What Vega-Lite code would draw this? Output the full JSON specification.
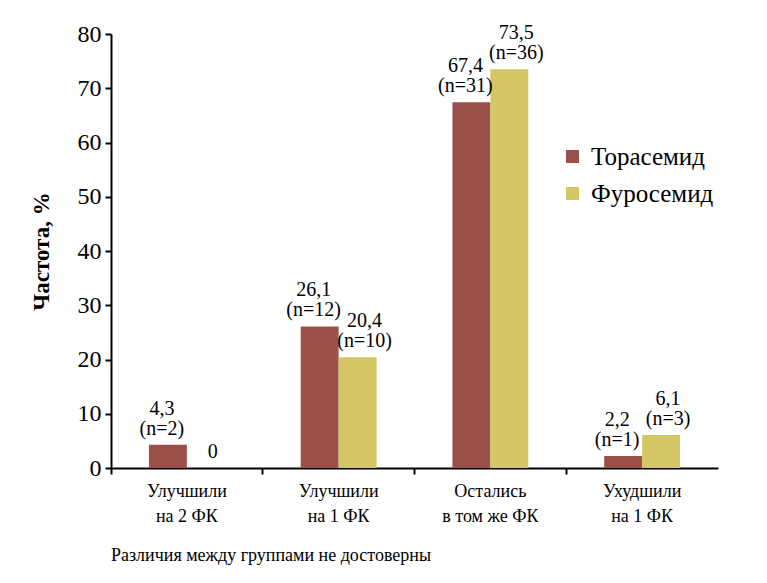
{
  "$schema": "https://vega.github.io/schema/vega-lite/v6.json",
  "width": 607,
  "height": 434,
  "autosize": "none",
  "padding": {"left": 111, "top": 34, "right": 49, "bottom": 115},
  "background": "white",
  "config": {
    "font": "Liberation Serif",
    "view": {"stroke": null}
  },
  "title": {
    "text": "Различия между группами не достоверны",
    "orient": "bottom",
    "anchor": "start",
    "frame": "group",
    "font": "Liberation Serif",
    "fontSize": 18,
    "fontWeight": "normal",
    "color": "black",
    "offset": 22
  },
  "data": {
    "values": [
      {"cat": "Улучшили|на 2 ФК", "group": "Торасемид", "value": 4.3, "line1": "4,3", "line2": "(n=2)"},
      {"cat": "Улучшили|на 2 ФК", "group": "Фуросемид", "value": 0, "line1": "", "line2": "0"},
      {"cat": "Улучшили|на 1 ФК", "group": "Торасемид", "value": 26.1, "line1": "26,1", "line2": "(n=12)"},
      {"cat": "Улучшили|на 1 ФК", "group": "Фуросемид", "value": 20.4, "line1": "20,4", "line2": "(n=10)"},
      {"cat": "Остались|в том же ФК", "group": "Торасемид", "value": 67.4, "line1": "67,4", "line2": "(n=31)"},
      {"cat": "Остались|в том же ФК", "group": "Фуросемид", "value": 73.5, "line1": "73,5", "line2": "(n=36)"},
      {"cat": "Ухудшили|на 1 ФК", "group": "Торасемид", "value": 2.2, "line1": "2,2", "line2": "(n=1)"},
      {"cat": "Ухудшили|на 1 ФК", "group": "Фуросемид", "value": 6.1, "line1": "6,1", "line2": "(n=3)"}
    ]
  },
  "encoding": {
    "x": {
      "field": "cat",
      "type": "nominal",
      "sort": null,
      "scale": {"paddingInner": 0, "paddingOuter": 0},
      "axis": {
        "title": null,
        "labelAngle": 0,
        "labelExpr": "split(datum.label, '|')",
        "labelFont": "Liberation Serif",
        "labelFontSize": 18,
        "labelColor": "black",
        "labelLineHeight": 25,
        "labelPadding": 8,
        "domainColor": "black",
        "domainWidth": 2,
        "tickColor": "black",
        "tickWidth": 2,
        "tickSize": 6,
        "bandPosition": 0,
        "grid": false
      }
    },
    "xOffset": {
      "field": "group",
      "type": "nominal",
      "scale": {"paddingInner": 0, "paddingOuter": 1.05}
    },
    "y": {
      "field": "value",
      "type": "quantitative",
      "scale": {"domain": [0, 80]},
      "axis": {
        "title": "Частота, %",
        "titleFont": "Liberation Serif",
        "titleFontSize": 23,
        "titleFontWeight": "bold",
        "titleColor": "black",
        "titlePadding": 24,
        "values": [0, 10, 20, 30, 40, 50, 60, 70, 80],
        "labelFont": "Liberation Serif",
        "labelFontSize": 24,
        "labelColor": "black",
        "labelPadding": 4,
        "domainColor": "black",
        "domainWidth": 2,
        "tickColor": "black",
        "tickWidth": 2,
        "tickSize": 6,
        "grid": false
      }
    }
  },
  "layer": [
    {
      "mark": {"type": "bar"},
      "encoding": {
        "color": {
          "field": "group",
          "type": "nominal",
          "scale": {"domain": ["Торасемид", "Фуросемид"], "range": ["#9B5049", "#D4C565"]},
          "legend": {
            "title": null,
            "orient": "none",
            "legendX": 449,
            "legendY": 110,
            "symbolType": "square",
            "symbolSize": 170,
            "symbolStrokeWidth": 0,
            "symbolOpacity": 1,
            "labelFont": "Liberation Serif",
            "labelFontSize": 25,
            "labelColor": "black",
            "labelOffset": 6,
            "rowPadding": 11
          }
        }
      }
    },
    {
      "transform": [{"filter": "datum.group === 'Торасемид'"}],
      "layer": [
        {
          "mark": {"type": "text", "baseline": "alphabetic", "align": "center", "dx": -6, "dy": -10, "font": "Liberation Serif", "fontSize": 20, "color": "black"},
          "encoding": {"text": {"field": "line2"}}
        },
        {
          "mark": {"type": "text", "baseline": "alphabetic", "align": "center", "dx": -6, "dy": -30, "font": "Liberation Serif", "fontSize": 20, "color": "black"},
          "encoding": {"text": {"field": "line1"}}
        }
      ]
    },
    {
      "transform": [{"filter": "datum.group === 'Фуросемид'"}],
      "layer": [
        {
          "mark": {"type": "text", "baseline": "alphabetic", "align": "center", "dx": 7, "dy": -10, "font": "Liberation Serif", "fontSize": 20, "color": "black"},
          "encoding": {"text": {"field": "line2"}}
        },
        {
          "mark": {"type": "text", "baseline": "alphabetic", "align": "center", "dx": 7, "dy": -30, "font": "Liberation Serif", "fontSize": 20, "color": "black"},
          "encoding": {"text": {"field": "line1"}}
        }
      ]
    }
  ]
}
